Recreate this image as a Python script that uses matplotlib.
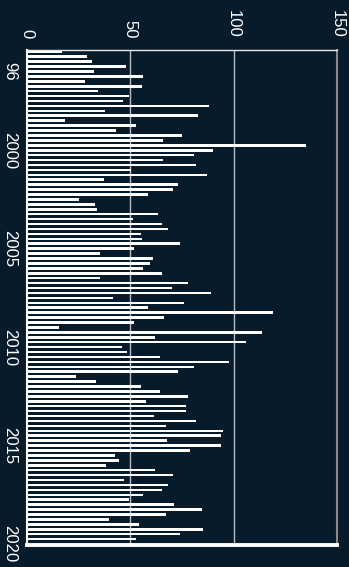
import numpy as np
import matplotlib
matplotlib.use("Agg")
import matplotlib.pyplot as plt

plt.rcParams['font.family'] = ['Liberation Sans', 'DejaVu Sans']

# Quarterly values, 1995 Q1 .. 2019 Q4
start_year = 1995
values = [
    17, 29, 31.5, 48, 32.6, 56, 28, 55.6, 34.4, 49.4,
    46.6, 88, 37.7, 83, 18.2, 52.7, 43.2, 75, 65.8, 135,
    90, 81, 66, 82, 50.3, 87, 37.2, 73, 70.6, 58.5,
    25.3, 32.7, 33.9, 63.2, 51.1, 65.3, 68.4, 55, 55.6, 74,
    51.6, 35.2, 61.1, 59.7, 56.1, 65.3, 35.2, 78, 70.2, 89,
    41.6, 76, 58.7, 119, 66.3, 51.9, 15.5, 114, 62.1, 106,
    46, 48.4, 64.4, 98, 81, 73, 23.7, 33.5, 55.2, 64.2,
    78, 57.7, 77, 77, 61.3, 82, 67.4, 95, 94, 67.7,
    94, 79, 42.7, 44.4, 38.4, 61.8, 70.6, 47.1, 68.2, 65.6,
    56.1, 49.5, 71.4, 84.5, 67.4, 39.7, 54.4, 85.3, 74.3, 52.7,
]
year_ticks = [1996, 2000, 2005, 2010, 2015, 2020]
year_labels = ["96", "2000", "2005", "2010", "2015", "2020"]
value_ticks = [0, 50, 100, 150]

bg = "#081b2b"
positions = start_year + np.arange(len(values)) / 4.0

fig = plt.figure(figsize=(3.49, 5.67), dpi=100, facecolor=bg)
ax = fig.add_axes([0.0774, 0.0388, 0.965 - 0.0774, 0.9118 - 0.0388])
ax.set_facecolor(bg)

ax.barh(positions, values, height=0.13, color="white", edgecolor="none", zorder=3)

ax.set_xlim(0, 150)
ax.set_ylim(2020.05, 1994.91)

ax.xaxis.tick_top()
ax.set_xticks(value_ticks)
ax.set_xticklabels([str(v) for v in value_ticks], rotation=-90)
ax.set_yticks(year_ticks)
ax.set_yticklabels(year_labels, rotation=-90, va="center")
ax.tick_params(axis="x", length=0, pad=8.5, colors="white", labelsize=12)
ax.tick_params(axis="y", length=0, pad=7, colors="white", labelsize=12)

for v in (50, 100):
    ax.axvline(v, color="#b8bcc0", lw=1.0, zorder=1)

ax.spines["left"].set_color("white")
ax.spines["left"].set_linewidth(1.5)
ax.spines["top"].set_color("#e8e8e8")
ax.spines["top"].set_linewidth(1.0)
ax.spines["right"].set_color("#8a8a8a")
ax.spines["right"].set_linewidth(1.5)
ax.spines["bottom"].set_color("white")
ax.spines["bottom"].set_linewidth(2.8)
for s in ax.spines.values():
    s.set_zorder(4)

fig.savefig("out.png", dpi=100, facecolor=bg)
